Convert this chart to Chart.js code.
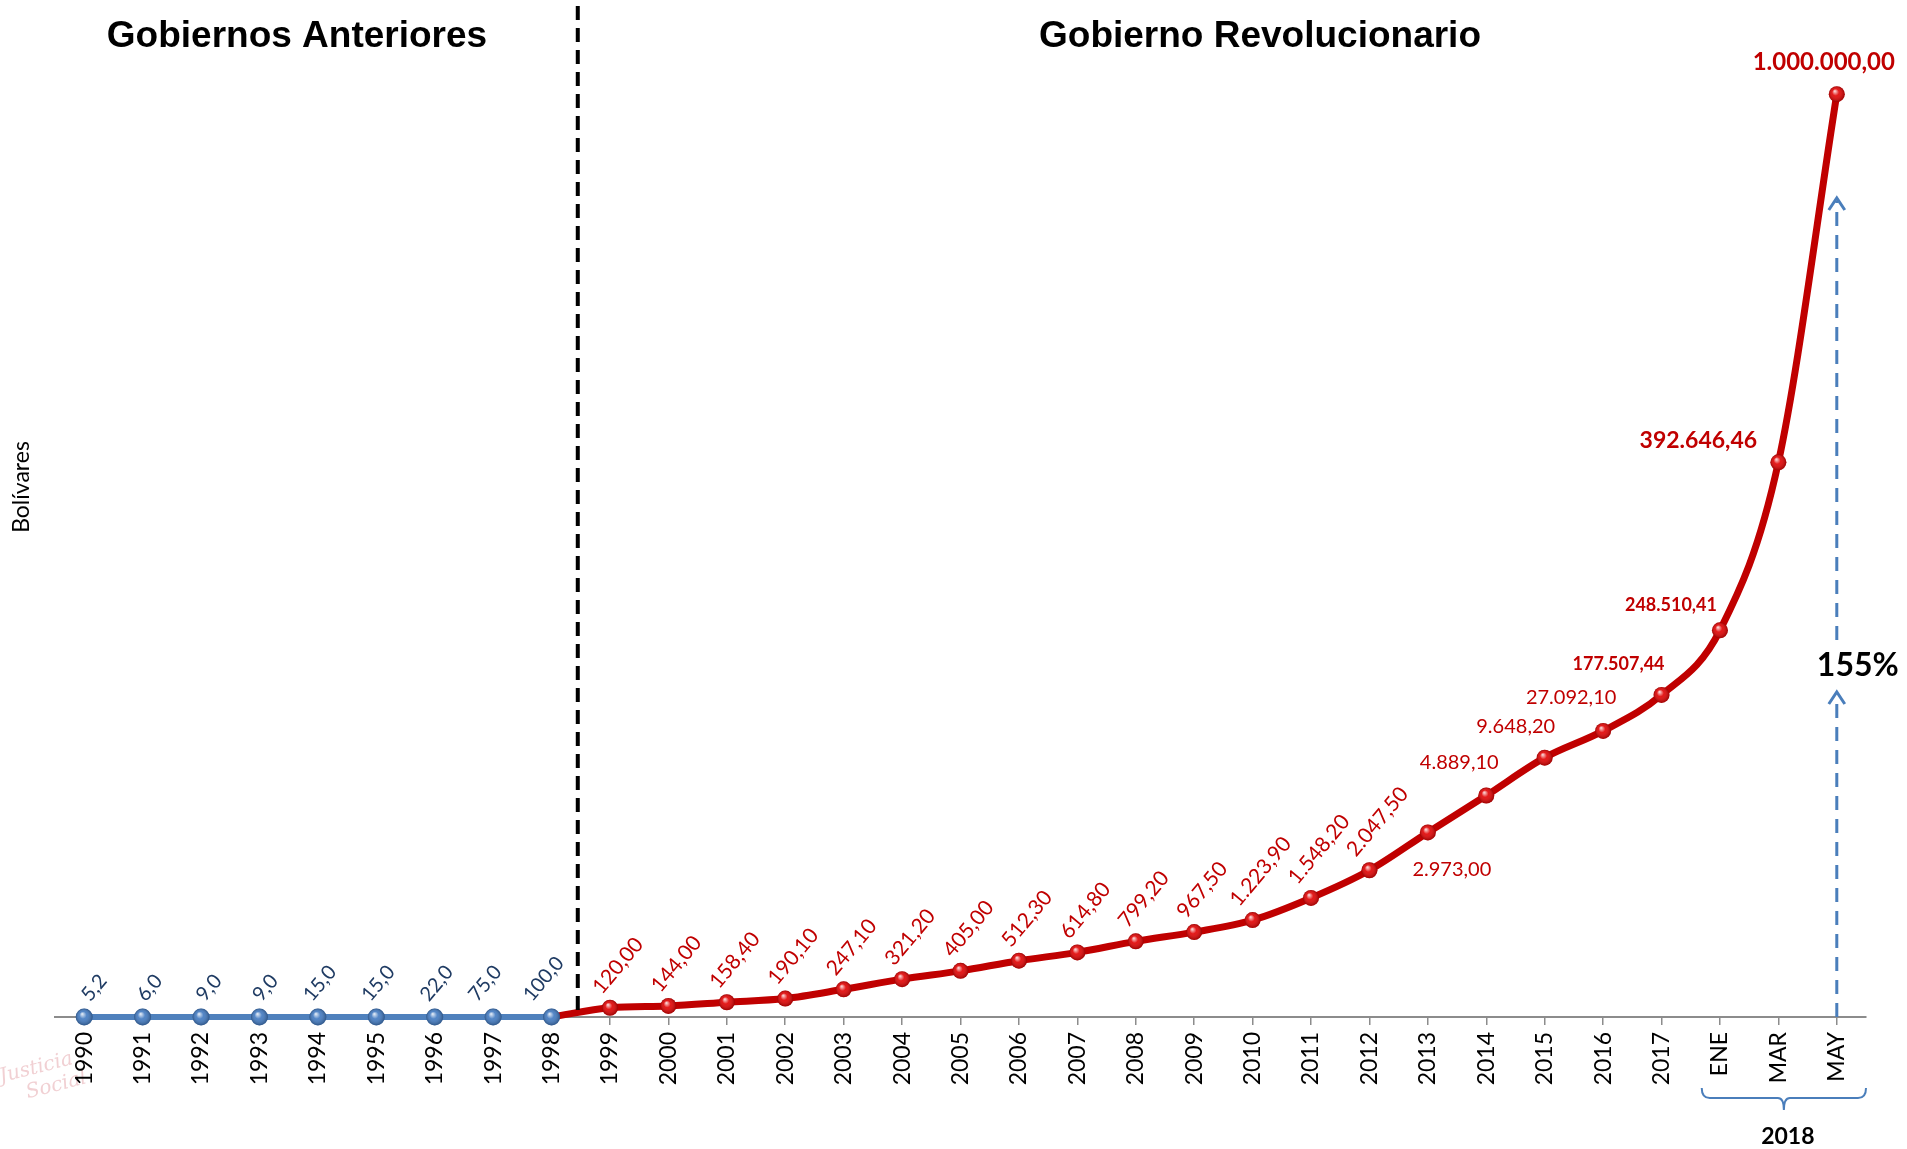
<!DOCTYPE html>
<html>
<head>
<meta charset="utf-8">
<script src="https://cdn.jsdelivr.net/npm/chart.js@4.4.1/dist/chart.umd.min.js"></script>
<style>
  html, body { margin: 0; padding: 0; background: #fff; overflow: hidden; }
</style>
</head>
<body>
<canvas id="canvas" width="1907" height="1149"></canvas>
<script>
var CATEGORIAS = ['1990', '1991', '1992', '1993', '1994', '1995', '1996', '1997', '1998',
  '1999', '2000', '2001', '2002', '2003', '2004', '2005', '2006', '2007', '2008', '2009',
  '2010', '2011', '2012', '2013', '2014', '2015', '2016', '2017', 'ENE', 'MAR', 'MAY'];

// altura relativa de cada punto tal como aparece en el grafico (0 = eje, 1000 = mayo 2018)
var ANTERIORES = [0, 0, 0, 0, 0, 0, 0, 0, 0];
var REVOLUCIONARIO = [0, 10, 12, 16, 20, 30, 41, 50, 61, 70, 82, 92, 105, 129, 159,
  200, 240, 281, 310, 349, 419, 601, 1000];

// textos de las etiquetas (Bs)
var ETIQ_ANTERIORES = ['5,2', '6,0', '9,0', '9,0', '15,0', '15,0', '22,0', '75,0', '100,0'];
var ETIQ_REVOLUCIONARIO = ['', '120,00', '144,00', '158,40', '190,10', '247,10', '321,20',
  '405,00', '512,30', '614,80', '799,20', '967,50', '1.223,90', '1.548,20', '2.047,50',
  '2.973,00', '4.889,10', '9.648,20', '27.092,10', '177.507,44', '248.510,41',
  '392.646,46', '1.000.000,00'];

var ROJO = '#c00000';
var AZUL = '#4f81bd';
var AZUL_TEXTO = '#1f3b63';

// los primeros 8 anos no tienen serie roja
var serieAnt = ANTERIORES.concat(new Array(CATEGORIAS.length - ANTERIORES.length).fill(null));
var serieRev = new Array(CATEGORIAS.length - REVOLUCIONARIO.length).fill(null).concat(REVOLUCIONARIO);
var inicioRev = CATEGORIAS.length - REVOLUCIONARIO.length;

// corrimiento horizontal de las etiquetas azules
var dxAzul = [10, 7, 8, 6, 2, 2, 2, -8, -8];

// etiquetas horizontales (desde 2013): desplazamiento del centro del texto respecto al punto
var etiqHoriz = {
  '2013': { dx: 24, dy: 37, font: '20px Lato' },
  '2014': { dx: -27, dy: -33, font: '20px Lato' },
  '2015': { dx: -29, dy: -31, font: '20px Lato' },
  '2016': { dx: -32, dy: -33, font: '20px Lato' },
  '2017': { dx: -43, dy: -31, font: 'bold 18px Lato' },
  'ENE': { dx: -49, dy: -25, font: 'bold 18px Lato' },
  'MAR': { dx: -80, dy: -22, font: 'bold 23px Lato' },
  'MAY': { dx: -13, dy: -32, font: 'bold 24px Lato' }
};

var ANG = 50 * Math.PI / 180;

function etiquetaDiagonal(ctx, txt, px, py, dx, gap, size, color) {
  ctx.font = size + 'px Lato';
  var w = ctx.measureText(txt).width;
  var h = size * 0.72;
  var bh = w * Math.sin(ANG) + h * Math.cos(ANG);
  ctx.save();
  ctx.translate(px + dx, py - gap - bh / 2);
  ctx.rotate(-ANG);
  ctx.fillStyle = color;
  ctx.textAlign = 'center';
  ctx.textBaseline = 'middle';
  ctx.fillText(txt, 0, 0);
  ctx.restore();
}

function flecha(ctx, x, y0, y1) {
  ctx.save();
  ctx.strokeStyle = '#4a7ebb';
  ctx.lineWidth = 3;
  ctx.setLineDash([14, 9]);
  ctx.beginPath();
  ctx.moveTo(x, y0);
  ctx.lineTo(x, y1 + 3);
  ctx.stroke();
  ctx.setLineDash([]);
  ctx.beginPath();
  ctx.moveTo(x - 8, y1 + 12);
  ctx.lineTo(x, y1);
  ctx.lineTo(x + 8, y1 + 12);
  ctx.stroke();
  ctx.restore();
}

var anotaciones = {
  id: 'anotaciones',
  beforeDraw: function(chart) {
    var ctx = chart.ctx;
    ctx.save();
    ctx.fillStyle = '#ffffff';
    ctx.fillRect(0, 0, chart.width, chart.height);
    // marca de agua
    ctx.fillStyle = 'rgba(215,120,130,0.35)';
    ctx.font = 'italic 20px "DejaVu Serif"';
    ctx.translate(30, 1075);
    ctx.rotate(-0.25);
    ctx.fillText('Justicia', -30, 0);
    ctx.fillText('Social', -8, 22);
    ctx.restore();
  },
  afterDatasetsDraw: function(chart) {
    var ctx = chart.ctx;
    var xs = chart.scales.x;
    var area = chart.chartArea;

    // brillo de las esferas
    chart.data.datasets.forEach(function(ds, di) {
      var meta = chart.getDatasetMeta(di);
      meta.data.forEach(function(p, i) {
        if (ds.data[i] === null || p.options.radius === 0) return;
        var r = p.options.radius;
        var g = ctx.createRadialGradient(p.x - 2, p.y - 3, 0.5, p.x, p.y, r);
        g.addColorStop(0, 'rgba(255,255,255,0.8)');
        g.addColorStop(0.4, 'rgba(255,255,255,0.1)');
        g.addColorStop(1, 'rgba(0,0,0,0.3)');
        ctx.beginPath();
        ctx.arc(p.x, p.y, r, 0, Math.PI * 2);
        ctx.fillStyle = g;
        ctx.fill();
      });
    });

    // etiquetas de la serie azul
    var metaA = chart.getDatasetMeta(0);
    ETIQ_ANTERIORES.forEach(function(t, i) {
      var p = metaA.data[i];
      etiquetaDiagonal(ctx, t, p.x, p.y, dxAzul[i], 14, 20, AZUL_TEXTO);
    });

    // etiquetas de la serie roja
    var metaR = chart.getDatasetMeta(1);
    ETIQ_REVOLUCIONARIO.forEach(function(t, k) {
      if (!t) return;
      var i = inicioRev + k;
      var p = metaR.data[i];
      var h = etiqHoriz[CATEGORIAS[i]];
      if (h) {
        ctx.save();
        ctx.font = h.font;
        ctx.fillStyle = ROJO;
        ctx.textAlign = 'center';
        ctx.textBaseline = 'middle';
        ctx.fillText(t, p.x + h.dx, p.y + h.dy);
        ctx.restore();
      } else {
        etiquetaDiagonal(ctx, t, p.x, p.y, 8, 12, 21, ROJO);
      }
    });

    // linea divisoria
    var xDiv = (xs.getPixelForValue(8) + xs.getPixelForValue(9)) / 2 - 3;
    ctx.save();
    ctx.strokeStyle = '#000';
    ctx.lineWidth = 4;
    ctx.setLineDash([14, 8]);
    ctx.beginPath();
    ctx.moveTo(xDiv, 6);
    ctx.lineTo(xDiv, area.bottom);
    ctx.stroke();
    ctx.restore();

    // titulos
    ctx.save();
    ctx.fillStyle = '#000';
    ctx.font = 'bold 37px "Liberation Sans"';
    ctx.textAlign = 'center';
    ctx.textBaseline = 'middle';
    ctx.fillText('Gobiernos Anteriores', 297, 37);
    ctx.fillText('Gobierno Revolucionario', 1260, 37);

    // titulo eje y
    ctx.font = '23px Lato';
    ctx.translate(22, 487);
    ctx.rotate(-Math.PI / 2);
    ctx.fillText('Bolívares', 0, 0);
    ctx.restore();

    // flecha de variacion
    var xMay = xs.getPixelForValue(CATEGORIAS.length - 1);
    flecha(ctx, xMay, area.bottom, 692);
    flecha(ctx, xMay, 640, 198);
    ctx.save();
    ctx.fillStyle = '#000';
    ctx.font = 'bold 32px Lato';
    ctx.textAlign = 'center';
    ctx.textBaseline = 'middle';
    ctx.fillText('155%', xMay + 21, 666);

    // llave 2018
    var xIni = (xs.getPixelForValue(27) + xs.getPixelForValue(28)) / 2 + 11;
    var xFin = area.right;
    var xMed = (xIni + xFin) / 2;
    ctx.strokeStyle = '#4a7ebb';
    ctx.lineWidth = 2;
    ctx.beginPath();
    ctx.moveTo(xIni, 1088);
    ctx.quadraticCurveTo(xIni, 1098, xIni + 8, 1098);
    ctx.lineTo(xMed - 6, 1098);
    ctx.quadraticCurveTo(xMed, 1098, xMed, 1110);
    ctx.quadraticCurveTo(xMed, 1098, xMed + 6, 1098);
    ctx.lineTo(xFin - 8, 1098);
    ctx.quadraticCurveTo(xFin, 1098, xFin, 1088);
    ctx.stroke();
    ctx.font = 'bold 23px Lato';
    ctx.fillText('2018', xMed + 4, 1137);
    ctx.restore();
  }
};

var config = {
  type: 'line',
  data: {
    labels: CATEGORIAS,
    datasets: [{
      label: 'Gobiernos Anteriores',
      data: serieAnt,
      borderColor: AZUL,
      backgroundColor: '#3f78c0',
      borderWidth: 6,
      pointRadius: 8.5,
      pointBorderWidth: 0,
      pointBackgroundColor: '#3f78c0',
      order: 0,
      clip: false
    }, {
      label: 'Gobierno Revolucionario',
      data: serieRev,
      borderColor: ROJO,
      backgroundColor: '#e00000',
      borderWidth: 7,
      cubicInterpolationMode: 'monotone',
      pointRadius: function(c) { return c.dataIndex === inicioRev ? 0 : 8; },
      pointBorderWidth: 0,
      pointBackgroundColor: '#e00000',
      order: 1,
      clip: false
    }]
  },
  plugins: [anotaciones],
  options: {
    responsive: false,
    animation: false,
    devicePixelRatio: 1,
    layout: { padding: { top: 48, left: 55, right: 41, bottom: 0 } },
    plugins: {
      legend: { display: false },
      tooltip: { enabled: false }
    },
    scales: {
      x: {
        offset: true,
        grid: { display: true, drawOnChartArea: false, drawTicks: true, tickLength: 8, color: '#8c8c8c', lineWidth: 1.5 },
        border: { display: true, color: '#8c8c8c', width: 2 },
        ticks: {
          color: '#000',
          font: { family: 'Lato', size: 23 },
          minRotation: 90,
          maxRotation: 90,
          padding: 7,
          autoSkip: false
        },
        afterFit: function(s) { s.height = 132; }
      },
      y: {
        display: false,
        min: 0,
        max: 1050
      }
    }
  }
};

window.onload = function() {
  var ctx = document.getElementById('canvas').getContext('2d');
  window.grafico = new Chart(ctx, config);
};
</script>
</body>
</html>
